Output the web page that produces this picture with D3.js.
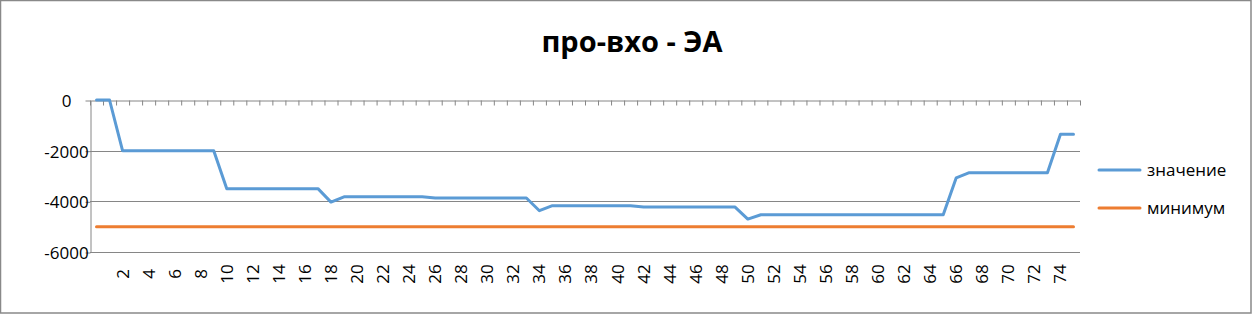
<!DOCTYPE html>
<html>
<head>
<meta charset="utf-8">
<script src="https://cdn.jsdelivr.net/npm/d3@7"></script>
<style>
  body { margin: 0; background: #fff; }
  text { font-family: "Open Sans", "Noto Sans", sans-serif; fill: #000; }
</style>
</head>
<body>
<div id="chart"></div>
<script>
const title = "про-вхо - ЭА";

const categories = [
  "", "1", "2", "3", "4", "5", "6", "7", "8", "9",
  "10", "11", "12", "13", "14", "15", "16", "17", "18", "19",
  "20", "21", "22", "23", "24", "25", "26", "27", "28", "29",
  "30", "31", "32", "33", "34", "35", "36", "37", "38", "39",
  "40", "41", "42", "43", "44", "45", "46", "47", "48", "49",
  "50", "51", "52", "53", "54", "55", "56", "57", "58", "59",
  "60", "61", "62", "63", "64", "65", "66", "67", "68", "69",
  "70", "71", "72", "73", "74", "75"
];

// значение
const valueSeries = [
  0, 0, -2000, -2000, -2000, -2000, -2000, -2000, -2000, -2000,
  -3500, -3500, -3500, -3500, -3500, -3500, -3500, -3500, -4030, -3820,
  -3820, -3820, -3820, -3820, -3820, -3820, -3870, -3870, -3870, -3870,
  -3870, -3870, -3870, -3870, -4370, -4170, -4170, -4170, -4170, -4170,
  -4170, -4170, -4220, -4220, -4220, -4220, -4220, -4220, -4220, -4220,
  -4700, -4530, -4530, -4530, -4530, -4530, -4530, -4530, -4530, -4530,
  -4530, -4530, -4530, -4530, -4530, -4530, -3070, -2870, -2870, -2870,
  -2870, -2870, -2870, -2870, -1350, -1350
];

// минимум
const minSeries = [
  -5000, -5000, -5000, -5000, -5000, -5000, -5000, -5000, -5000, -5000,
  -5000, -5000, -5000, -5000, -5000, -5000, -5000, -5000, -5000, -5000,
  -5000, -5000, -5000, -5000, -5000, -5000, -5000, -5000, -5000, -5000,
  -5000, -5000, -5000, -5000, -5000, -5000, -5000, -5000, -5000, -5000,
  -5000, -5000, -5000, -5000, -5000, -5000, -5000, -5000, -5000, -5000,
  -5000, -5000, -5000, -5000, -5000, -5000, -5000, -5000, -5000, -5000,
  -5000, -5000, -5000, -5000, -5000, -5000, -5000, -5000, -5000, -5000,
  -5000, -5000, -5000, -5000, -5000, -5000
];

const yTicks = [0, -2000, -4000, -6000];

const series = [
  { name: "значение", color: "#5b9bd5", values: valueSeries },
  { name: "минимум", color: "#ed7d31", values: minSeries }
];

const width = 1252;
const height = 314;
const plotLeft = 90;
const plotRight = 1080;
const plotTop = 100;
const plotBottom = 252;
const gridColor = "#868686";
const labelSize = "17px";

const svg = d3.select("#chart")
  .append("svg")
    .attr("width", width)
    .attr("height", height);

// chart border
svg.append("rect")
  .attr("x", 0.5)
  .attr("y", 0.5)
  .attr("width", width - 1.5)
  .attr("height", height - 1.5)
  .attr("fill", "#fff")
  .attr("stroke", "#898989")
  .attr("stroke-width", 1.5);

svg.append("text")
  .attr("x", 632)
  .attr("y", 52)
  .attr("text-anchor", "middle")
  .style("font-size", "29px")
  .style("font-weight", "bold")
  .text(title);

const x = d3.scaleBand()
  .domain(d3.range(categories.length))
  .range([plotLeft, plotRight])
  .padding(0);

const xEdge = d3.scaleLinear()
  .domain([0, categories.length])
  .range([plotLeft, plotRight]);

const y = d3.scaleLinear()
  .domain([-6000, 0])
  .range([plotBottom, plotTop]);

// horizontal gridlines
svg.append("g")
  .selectAll("line")
  .data(yTicks.filter(d => d !== 0))
  .enter().append("line")
    .attr("x1", plotLeft)
    .attr("x2", plotRight)
    .attr("y1", d => Math.round(y(d)) + 0.5)
    .attr("y2", d => Math.round(y(d)) + 0.5)
    .attr("stroke", gridColor);

// y axis
const yAxis = svg.append("g")
  .attr("transform", "translate(" + (plotLeft + 0.5) + ",0.5)")
  .call(d3.axisLeft(y)
    .tickValues(yTicks)
    .tickSize(5)
    .tickSizeOuter(0)
    .tickFormat(d => String(d)));
yAxis.select(".domain").attr("stroke", gridColor);
yAxis.selectAll(".tick line").attr("stroke", gridColor);
yAxis.selectAll(".tick text")
  .attr("x", -24)
  .attr("text-anchor", "middle")
  .attr("dy", "0.35em")
  .style("font-size", labelSize)
  .style("font-family", "\"Open Sans\", \"Noto Sans\", sans-serif");

// category axis along the zero line, ticks at category edges
const xAxis = svg.append("g")
  .attr("transform", "translate(0," + (y(0) + 0.5) + ")")
  .call(d3.axisBottom(xEdge)
    .tickValues(d3.range(categories.length + 1))
    .tickSize(5)
    .tickSizeOuter(0)
    .tickFormat(""));
xAxis.select(".domain").attr("stroke", gridColor);
xAxis.selectAll(".tick line").attr("stroke", gridColor);

// category labels, every second one, rotated
svg.append("g")
  .selectAll("text")
  .data(categories.map((c, i) => ({ c, i })).filter(d => d.i % 2 === 0 && d.c !== ""))
  .enter().append("text")
    .attr("transform", d => "translate(" + (x(d.i) + x.bandwidth() / 2) + ",274) rotate(-90)")
    .attr("text-anchor", "middle")
    .attr("dy", "0.35em")
    .style("font-size", labelSize)
    .text(d => d.c);

const line = d3.line()
  .x((d, i) => x(i) + x.bandwidth() / 2)
  .y(d => y(d));

svg.append("g")
  .selectAll("path")
  .data(series.slice().reverse())
  .enter().append("path")
    .attr("d", d => line(d.values))
    .attr("fill", "none")
    .attr("stroke", d => d.color)
    .attr("stroke-width", 3)
    .attr("stroke-linejoin", "round")
    .attr("stroke-linecap", "round");

// legend
const legend = svg.append("g")
  .selectAll("g")
  .data(series)
  .enter().append("g")
    .attr("transform", (d, i) => "translate(1099," + (170 + i * 38) + ")");

legend.append("line")
  .attr("x1", 0)
  .attr("x2", 41)
  .attr("stroke", d => d.color)
  .attr("stroke-width", 3)
  .attr("stroke-linecap", "round");

legend.append("text")
  .attr("x", 48)
  .attr("dy", "0.35em")
  .style("font-size", labelSize)
  .text(d => d.name);
</script>
</body>
</html>
